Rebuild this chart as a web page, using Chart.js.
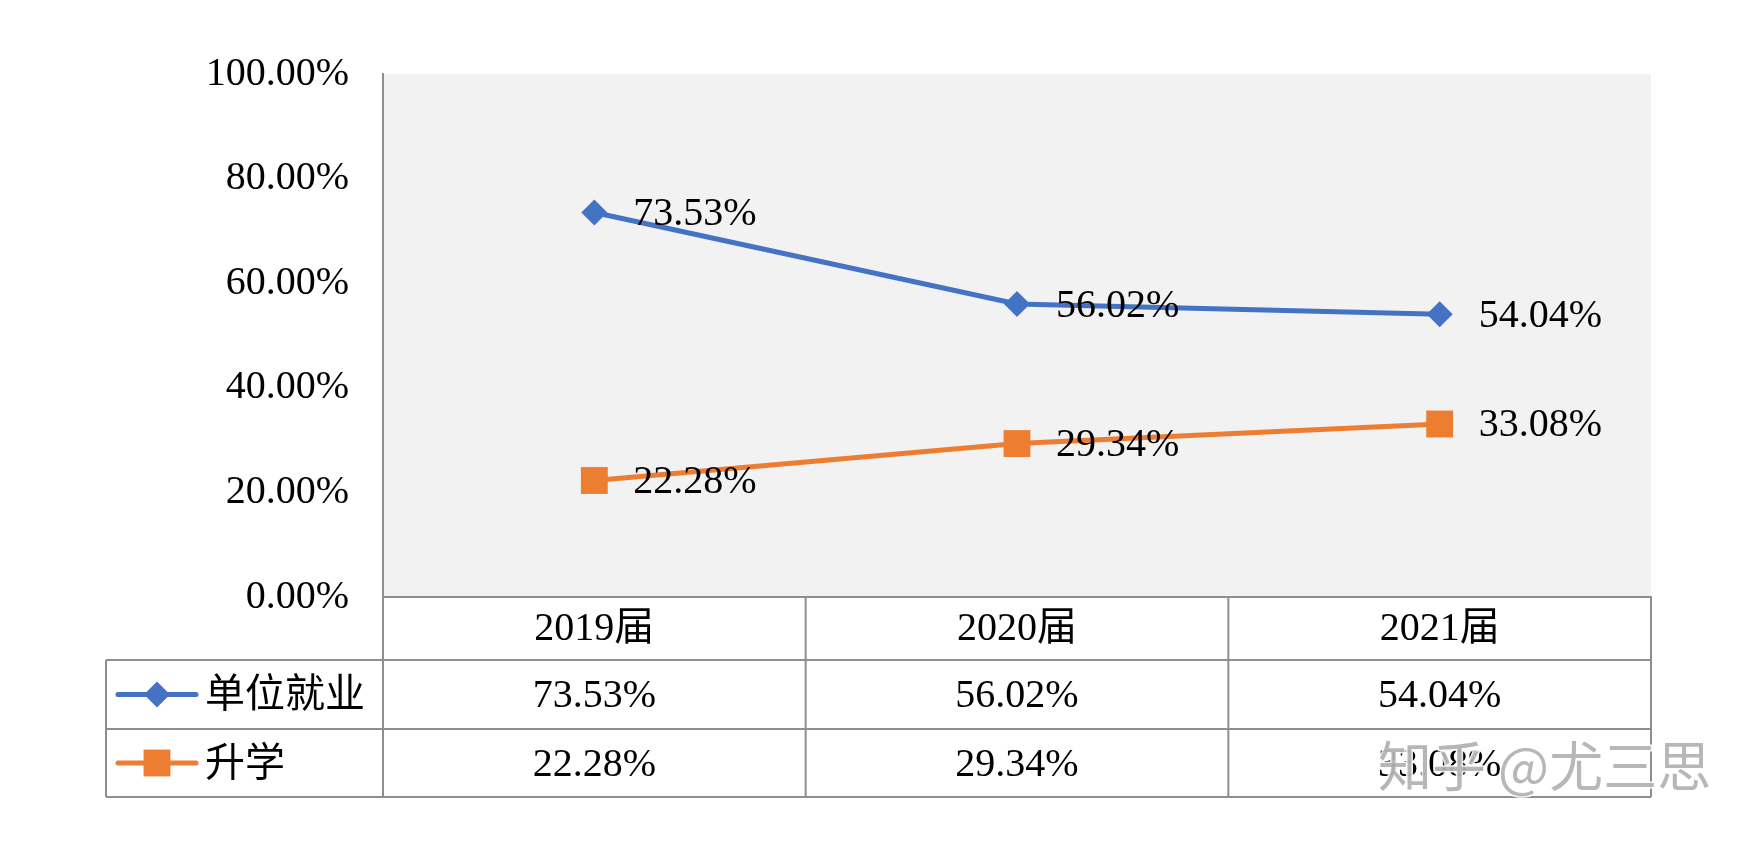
<!DOCTYPE html>
<html>
<head>
<meta charset="utf-8">
<script src="https://cdn.jsdelivr.net/npm/chart.js@4.4.1/dist/chart.umd.min.js"></script>
<style>
html, body { margin: 0; padding: 0; background: #fff; }
#wrap { width: 1755px; height: 843px; }
</style>
</head>
<body>
<div id="wrap"><canvas id="chart" width="1755" height="843"></canvas></div>
<script>
var years = ['2019届', '2020届', '2021届'];
var employed = [73.53, 56.02, 54.04];
var furtherStudy = [22.28, 29.34, 33.08];
var seriesNames = ['单位就业', '升学'];
var yMin = 0, yMax = 100, yStep = 20;

var colors = { blue: '#4472C4', orange: '#ED7D31', grid: '#8E8E8E', plot: '#F2F2F2' };
var FONT = "'Liberation Serif', 'Noto Sans CJK SC', serif";

function pct(v) { return v.toFixed(2) + '%'; }

// grey plot area
var plotBg = {
	id: 'plotBg',
	beforeDraw: function(chart){
		var a = chart.chartArea, ctx = chart.ctx;
		ctx.save();
		ctx.fillStyle = colors.plot;
		ctx.fillRect(a.left, a.top, a.right - a.left, a.bottom - a.top);
		ctx.restore();
	}
};

// value next to each point
var valueLabels = {
	id: 'valueLabels',
	afterDatasetsDraw: function(chart){
		var ctx = chart.ctx;
		ctx.save();
		ctx.font = '40px ' + FONT;
		ctx.fillStyle = '#000';
		ctx.textAlign = 'left';
		ctx.textBaseline = 'middle';
		chart.data.datasets.forEach(function(ds, i){
			var meta = chart.getDatasetMeta(i);
			meta.data.forEach(function(pt, j){
				ctx.fillText(pct(ds.data[j]), pt.x + 39, pt.y + 2);
			});
		});
		ctx.restore();
	}
};

// data table under the chart (header row holds the x ticks)
var dataTable = {
	id: 'dataTable',
	afterDraw: function(chart){
		var ctx = chart.ctx, x = chart.scales.x, a = chart.chartArea;
		var rows = [a.bottom, 660, 729, 797];
		var legendLeft = 106;
		var n = chart.data.labels.length;
		var cols = [x.left];
		for(var i = 1; i < n; i++){
			cols.push((x.getPixelForValue(i - 1) + x.getPixelForValue(i)) / 2);
		}
		cols.push(x.right);

		ctx.save();
		ctx.strokeStyle = colors.grid;
		ctx.lineWidth = 2;
		ctx.beginPath();
		ctx.moveTo(x.left, rows[0]); ctx.lineTo(x.right, rows[0]);
		for(var r = 1; r < rows.length; r++){
			ctx.moveTo(legendLeft, rows[r]); ctx.lineTo(x.right, rows[r]);
		}
		cols.forEach(function(c){
			ctx.moveTo(c, rows[0]); ctx.lineTo(c, rows[rows.length - 1]);
		});
		ctx.moveTo(legendLeft, rows[1]); ctx.lineTo(legendLeft, rows[rows.length - 1]);
		ctx.stroke();

		ctx.font = '40px ' + FONT;
		ctx.fillStyle = '#000';
		ctx.textBaseline = 'middle';
		chart.data.datasets.forEach(function(ds, d){
			var cy = (rows[d + 1] + rows[d + 2]) / 2;
			// legend key
			ctx.strokeStyle = ds.borderColor;
			ctx.lineWidth = 5;
			ctx.lineCap = 'round';
			ctx.beginPath();
			ctx.moveTo(118, cy); ctx.lineTo(196, cy);
			ctx.stroke();
			ctx.fillStyle = ds.borderColor;
			Chart.helpers.drawPoint(ctx, {
				pointStyle: ds.pointStyle, radius: ds.pointRadius, rotation: 0, borderWidth: 0
			}, 157, cy);
			ctx.fillStyle = '#000';
			ctx.textAlign = 'left';
			ctx.fillText(ds.label, 205, cy + 2);
			// values
			ctx.textAlign = 'center';
			ds.data.forEach(function(v, j){
				ctx.fillText(pct(v), x.getPixelForValue(j), cy + 2);
			});
		});

		// site watermark
		ctx.font = '54px "Noto Sans CJK SC"';
		ctx.textAlign = 'left';
		ctx.textBaseline = 'middle';
		ctx.lineWidth = 3;
		ctx.strokeStyle = 'rgba(255,255,255,0.9)';
		ctx.strokeText('知乎 @尤三思', 1378, 766);
		ctx.fillStyle = 'rgba(175,175,175,0.9)';
		ctx.fillText('知乎 @尤三思', 1378, 766);
		ctx.restore();
	}
};

var chart = new Chart(document.getElementById('chart'), {
	type: 'line',
	data: {
		labels: years,
		datasets: [{
			label: seriesNames[0],
			data: employed,
			borderColor: colors.blue,
			backgroundColor: colors.blue,
			borderWidth: 5,
			pointStyle: 'rectRot',
			pointRadius: 13,
			pointBorderWidth: 0,
			tension: 0
		}, {
			label: seriesNames[1],
			data: furtherStudy,
			borderColor: colors.orange,
			backgroundColor: colors.orange,
			borderWidth: 5,
			pointStyle: 'rect',
			pointRadius: 19,
			pointBorderWidth: 0,
			tension: 0
		}]
	},
	options: {
		responsive: false,
		animation: false,
		devicePixelRatio: 1,
		layout: { padding: { top: 74, right: 104, left: 0, bottom: 0 } },
		plugins: {
			legend: { display: false },
			tooltip: { enabled: false }
		},
		scales: {
			x: {
				offset: true,
				grid: { display: false, drawTicks: false },
				border: { display: true, color: colors.grid, width: 2 },
				ticks: {
					autoSkip: false, maxRotation: 0, padding: 8,
					color: '#000', font: { family: FONT, size: 40 }
				},
				afterFit: function(scale){ scale.height = 246; }
			},
			y: {
				min: yMin, max: yMax,
				grid: { display: false, drawTicks: false },
				border: { display: true, color: colors.grid, width: 2 },
				ticks: {
					stepSize: yStep, padding: 34,
					color: '#000', font: { family: FONT, size: 40 },
					callback: function(v){ return pct(v); }
				},
				afterFit: function(scale){ scale.width = 383; }
			}
		}
	},
	plugins: [plotBg, valueLabels, dataTable]
});
</script>
</body>
</html>
